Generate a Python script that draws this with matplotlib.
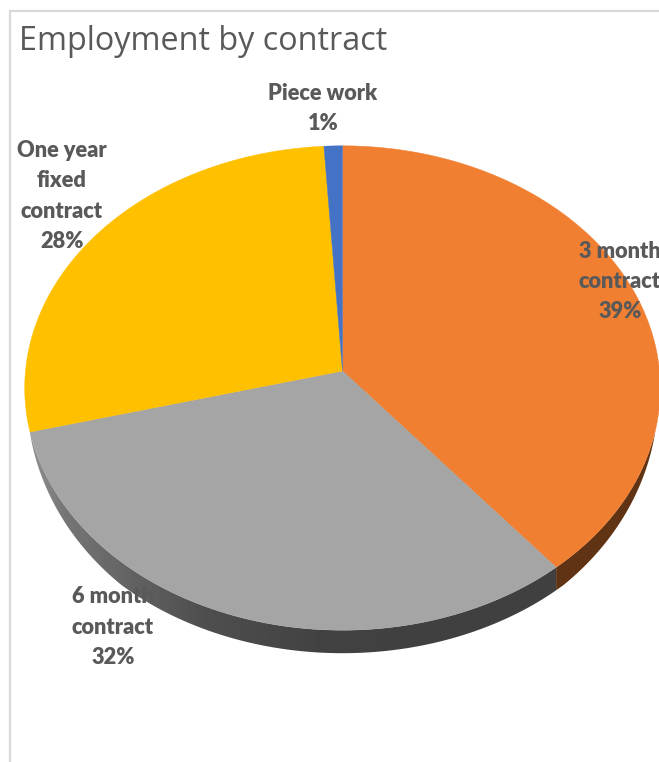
import numpy as np
from matplotlib import pyplot as plt
from matplotlib.patches import Polygon

# ==== Chart data ====
title = 'Employment by contract'
categories = ['3 month\ncontract', '6 month\ncontract', 'One year\nfixed\ncontract', 'Piece work']
shares = [39, 32, 28, 1]
colors = ['#F07F31', '#A5A5A5', '#FFC000', '#4472C4']

# ==== Pie geometry, in pixels ====
W, H = 659, 762
cx, cy = 342.5, 371
rx, ry = 317, 241
tilt = 0.0702
depth = 23
text_color = '#595959'

# where each data label sits (centre of the text block)
label_pos = [(620, 281.5), (113, 627), (62, 196), (323, 108.5)]

# grey level of the side of the disc, from left to right
shade_x = [25, 65, 120, 200, 330, 560]
shade_level = [0.58, 0.46, 0.40, 0.31, 0.255, 0.25]


def project(frac):
    # clockwise from 12 o'clock on a flat disc, then seen in perspective
    theta = 2*np.pi*np.asarray(frac)
    x, y = np.sin(theta), np.cos(theta)
    w = 1 + tilt*y
    return cx + rx*x/w, cy - ry*y/w


def side_outline(start, stop):
    # band under the rim, thinning out where the disc turns away
    frac = np.linspace(start, stop, 300)
    px, py = project(frac)
    thick = depth*np.clip((-np.cos(2*np.pi*frac) - 0.25)/0.5, 0, 1)**0.6
    return np.r_[px, px[::-1]], np.r_[py, (py + thick)[::-1]], thick.max()


fig = plt.figure(figsize=(W/100, H/100), dpi=100)
ax = fig.add_axes([0, 0, 1, 1])

# Chart frame
ax.plot([10, 10, W + 5], [H + 5, 11, 11], color='#D9D9D9', lw=1.6, solid_joinstyle='miter')

edges = np.cumsum([0] + shares)/sum(shares)

# Side of the disc: dark brown under the orange, a grey gradient elsewhere
ramp = np.interp(np.arange(W), shade_x, shade_level).reshape(1, -1)
for i, (start, stop) in enumerate(zip(edges[:-1], edges[1:])):
    sx, sy, thick = side_outline(start, stop)
    if thick == 0:
        continue
    outline = Polygon(np.column_stack([sx, sy]), closed=True, transform=ax.transData,
                      facecolor='#5F3313', edgecolor='none')
    if i == 0:
        ax.add_patch(outline)
    else:
        im = ax.imshow(ramp, cmap='gray', vmin=0, vmax=1, extent=[0, W, H, 0], aspect='auto')
        im.set_clip_path(outline)

# Top of the disc
for i, (start, stop) in enumerate(zip(edges[:-1], edges[1:])):
    px, py = project(np.linspace(start, stop, 200))
    pts = np.column_stack([np.r_[cx, px], np.r_[cy, py]])
    ax.add_patch(Polygon(pts, closed=True, facecolor=colors[i], edgecolor=colors[i], lw=0.3))

ax.text(19, 41.5, title, fontsize=23.3, family='Open Sans', color=text_color, va='center', ha='left')

for name, share, pos in zip(categories, shares, label_pos):
    ax.text(pos[0], pos[1], '%s\n%d%%' % (name, share), fontsize=15.7, family='Lato',
            weight='heavy', color=text_color, ha='center', va='center', linespacing=1.53)

ax.set_xlim(0, W)
ax.set_ylim(H, 0)
ax.axis('off')

plt.savefig('out.png', dpi=100)
